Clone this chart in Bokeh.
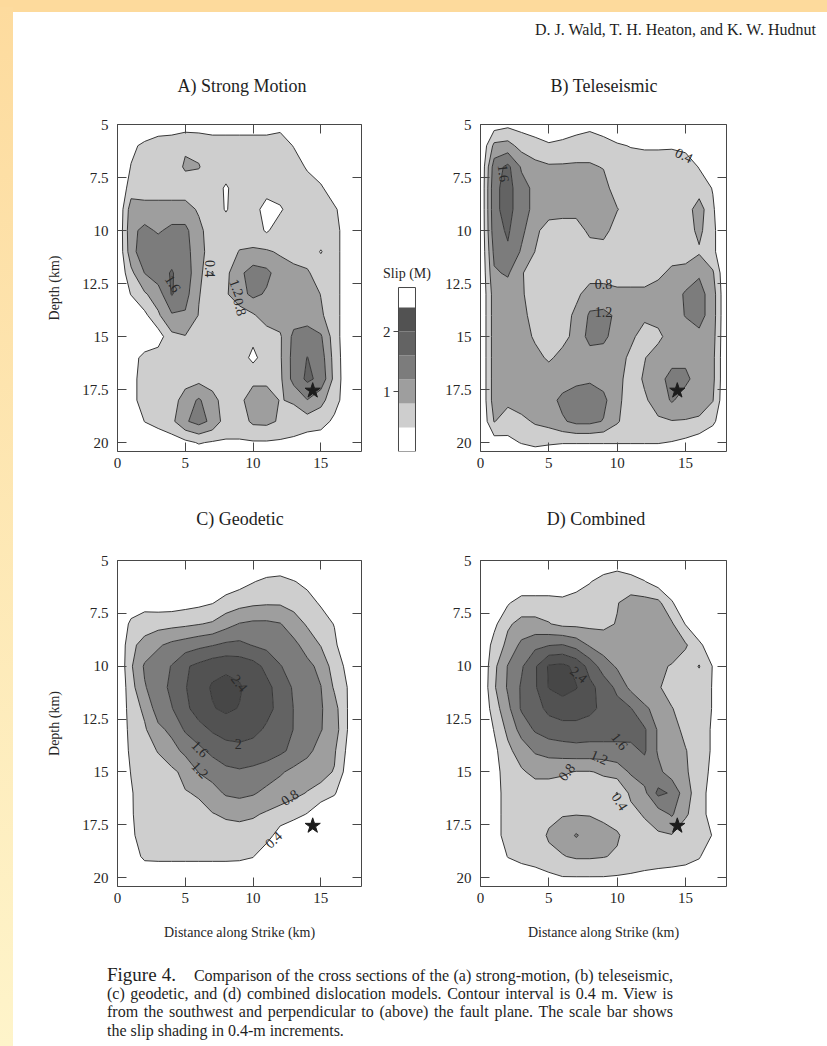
import numpy as np
from bokeh.plotting import figure
from bokeh.layouts import row, column
from bokeh.models import (Range1d, LinearAxis, FixedTicker, CustomJSTickFormatter,
                          Div, ColumnDataSource)
from bokeh.core.properties import value
from bokeh.embed import file_html
from bokeh.resources import INLINE

# ---------------------------------------------------------------------------
# Fault-plane grid (km): distance along strike and depth
distance_km = list(range(0, 19))
depth_km = list(range(5, 22))

# Slip (m) on the grid, one row per depth (5 ... 21 km)
slip_strong_motion = [
    [0, 0, 0, 0.15, 0.2, 0.2, 0.2, 0.2, 0.2, 0.2, 0.2, 0.2, 0.28, 0, 0, 0, 0, 0, 0],
    [0, 0.3, 0.5, 0.6, 0.6, 0.75, 0.7, 0.6, 0.6, 0.6, 0.6, 0.6, 0.6, 0.38, 0, 0, 0, 0, 0],
    [0, 0.42, 0.6, 0.6, 0.6, 0.85, 0.82, 0.6, 0.6, 0.6, 0.6, 0.6, 0.6, 0.6, 0.35, 0, 0, 0, 0],
    [0, 0.6, 0.6, 0.6, 0.6, 0.6, 0.6, 0.6, 0.35, 0.6, 0.6, 0.6, 0.6, 0.6, 0.6, 0.5, 0, 0, 0],
    [0, 1.0, 0.95, 0.95, 0.95, 0.95, 0.75, 0.6, 0.37, 0.6, 0.6, 0.2, 0.35, 0.6, 0.6, 0.6, 0.5, 0, 0],
    [0, 1.1, 1.3, 1.15, 1.3, 1.3, 0.9, 0.6, 0.6, 0.6, 0.6, 0.35, 0.6, 0.6, 0.6, 0.6, 0.6, 0.1, 0],
    [0, 1.05, 1.45, 1.45, 1.45, 1.35, 0.95, 0.6, 0.6, 0.82, 0.85, 0.85, 0.75, 0.6, 0.6, 0.38, 0.6, 0.1, 0],
    [0, 0.7, 1.21, 1.45, 1.63, 1.4, 0.95, 0.38, 0.7, 1.1, 1.4, 1.3, 1.0, 0.95, 0.85, 0.6, 0.6, 0.1, 0],
    [0, 0.42, 0.75, 1.0, 1.63, 1.35, 0.82, 0.6, 0.75, 1.05, 1.3, 1.15, 1.0, 1.0, 1.0, 0.79, 0.6, 0.1, 0],
    [0, 0, 0.3, 0.74, 1.15, 1.15, 0.78, 0.6, 0.6, 0.6, 0.75, 1.0, 1.0, 1.0, 1.0, 0.85, 0.6, 0.1, 0],
    [0, 0, 0, 0.2, 0.7, 0.78, 0.7, 0.6, 0.6, 0.6, 0.5, 0.6, 0.75, 1.3, 1.4, 1.25, 0.6, 0.1, 0],
    [0, 0.2, 0.55, 0.6, 0.6, 0.6, 0.6, 0.6, 0.6, 0.6, 0.3, 0.6, 0.75, 1.35, 1.61, 1.4, 0.65, 0.1, 0],
    [0, 0.25, 0.6, 0.6, 0.6, 0.62, 0.68, 0.6, 0.6, 0.6, 0.7, 0.7, 0.72, 1.35, 1.68, 1.5, 0.68, 0.1, 0],
    [0, 0.25, 0.6, 0.6, 0.6, 1.0, 1.25, 0.95, 0.6, 0.7, 1.0, 1.0, 0.78, 0.85, 1.19, 0.9, 0.6, 0.1, 0],
    [0, 0, 0.41, 0.6, 0.7, 1.15, 1.35, 1.1, 0.6, 0.6, 0.88, 0.9, 0.75, 0.6, 0.6, 0.6, 0.3, 0, 0],
    [0, 0, 0, 0, 0.2, 0.3, 0.43, 0.36, 0.36, 0.36, 0.36, 0.36, 0.34, 0.32, 0.2, 0.1, 0, 0, 0],
    [0, 0, 0, 0, 0, 0, 0, 0, 0, 0, 0, 0, 0, 0, 0, 0, 0, 0, 0],
]

slip_teleseismic = [
    [0, 0.2, 0.3, 0.25, 0.1, 0.1, 0.15, 0.2, 0.3, 0.2, 0.05, 0, 0, 0, 0, 0, 0, 0, 0],
    [0, 0.9, 0.95, 0.65, 0.6, 0.45, 0.5, 0.6, 0.6, 0.55, 0.45, 0.38, 0.35, 0.35, 0.36, 0.3, 0, 0, 0],
    [0, 1.4, 1.7, 1.15, 0.9, 0.85, 0.85, 0.85, 0.85, 0.78, 0.6, 0.6, 0.6, 0.6, 0.6, 0.6, 0.38, 0, 0],
    [0, 1.5, 1.75, 1.35, 1.1, 1.0, 1.0, 1.0, 1.0, 0.95, 0.6, 0.6, 0.6, 0.6, 0.6, 0.6, 0.6, 0.38, 0],
    [0, 1.5, 1.75, 1.35, 1.1, 1.0, 0.95, 0.95, 1.0, 1.0, 0.82, 0.6, 0.6, 0.6, 0.6, 0.6, 1.0, 0.45, 0],
    [0, 1.45, 1.65, 1.3, 0.9, 0.6, 0.6, 0.6, 0.9, 0.95, 0.6, 0.6, 0.6, 0.6, 0.6, 0.6, 0.9, 0.5, 0],
    [0, 1.3, 1.55, 1.15, 0.79, 0.6, 0.6, 0.6, 0.6, 0.6, 0.6, 0.6, 0.6, 0.6, 0.6, 0.6, 0.75, 0.5, 0],
    [0, 1.15, 1.25, 0.85, 0.5, 0.6, 0.6, 0.6, 0.6, 0.6, 0.6, 0.6, 0.6, 0.7, 0.9, 0.95, 1.15, 0.85, 0],
    [0, 1.0, 1.0, 0.85, 0.6, 0.6, 0.6, 0.7, 1.0, 1.0, 0.9, 0.9, 0.9, 1.0, 1.0, 1.25, 1.35, 1.0, 0],
    [0, 1.0, 1.0, 0.95, 0.6, 0.6, 0.6, 0.9, 1.25, 1.28, 1.15, 0.95, 0.9, 0.95, 1.0, 1.22, 1.35, 1.0, 0],
    [0, 1.0, 1.0, 0.95, 0.75, 0.6, 0.7, 0.9, 1.35, 1.3, 1.0, 0.9, 0.6, 0.7, 1.0, 1.0, 1.1, 0.95, 0],
    [0, 1.0, 1.0, 1.0, 0.9, 0.75, 0.9, 1.0, 1.0, 1.0, 1.0, 0.7, 0.78, 1.0, 1.05, 1.1, 1.05, 0.9, 0],
    [0, 1.0, 1.0, 1.0, 1.0, 1.0, 1.0, 1.1, 1.15, 1.05, 0.95, 0.6, 0.85, 1.05, 1.35, 1.3, 1.0, 0.9, 0],
    [0, 1.0, 0.9, 1.0, 1.0, 1.05, 1.3, 1.4, 1.4, 1.3, 0.9, 0.6, 0.75, 0.95, 1.25, 1.0, 0.95, 0.82, 0],
    [0, 0.82, 0.6, 0.7, 0.85, 0.95, 1.15, 1.3, 1.3, 1.18, 0.85, 0.55, 0.55, 0.75, 0.78, 0.78, 0.75, 0.5, 0],
    [0, 0.2, 0.3, 0.42, 0.5, 0.45, 0.42, 0.42, 0.42, 0.42, 0.42, 0.42, 0.42, 0.42, 0.38, 0.3, 0.15, 0, 0],
    [0, 0, 0, 0, 0, 0, 0, 0, 0, 0, 0, 0, 0, 0, 0, 0, 0, 0, 0],
]

slip_geodetic = [
    [0, 0, 0, 0, 0, 0, 0, 0, 0, 0, 0, 0, 0, 0, 0, 0, 0, 0, 0],
    [0, 0, 0, 0, 0, 0, 0, 0, 0.15, 0.25, 0.38, 0.5, 0.55, 0.42, 0.3, 0, 0, 0, 0],
    [0, 0.1, 0.25, 0.2, 0.2, 0.25, 0.3, 0.38, 0.55, 0.65, 0.72, 0.75, 0.75, 0.65, 0.55, 0.35, 0, 0, 0],
    [0, 0.5, 0.6, 0.65, 0.68, 0.72, 0.78, 0.85, 1.05, 1.22, 1.28, 1.28, 1.22, 1.0, 0.75, 0.6, 0.38, 0, 0],
    [0, 0.7, 0.95, 1.15, 1.3, 1.4, 1.5, 1.58, 1.68, 1.7, 1.58, 1.5, 1.4, 1.3, 1.05, 0.78, 0.5, 0, 0],
    [0, 0.75, 1.25, 1.4, 1.62, 1.95, 2.1, 2.25, 2.3, 2.25, 2.15, 1.9, 1.62, 1.45, 1.3, 1.1, 0.6, 0.3, 0],
    [0, 0.65, 1.17, 1.4, 1.7, 1.98, 2.2, 2.45, 2.55, 2.45, 2.2, 2.1, 1.85, 1.55, 1.35, 1.21, 0.75, 0.38, 0],
    [0, 0.6, 0.88, 1.41, 1.58, 1.9, 2.2, 2.37, 2.48, 2.38, 2.2, 2.1, 1.9, 1.59, 1.4, 1.24, 0.95, 0.38, 0],
    [0, 0.55, 0.75, 1.1, 1.3, 1.65, 1.85, 2.05, 2.15, 2.15, 2.1, 1.95, 1.8, 1.59, 1.4, 1.22, 1.0, 0.38, 0],
    [0, 0.5, 0.65, 0.82, 1.05, 1.3, 1.5, 1.7, 1.85, 1.9, 1.85, 1.8, 1.68, 1.5, 1.3, 1.05, 0.85, 0.3, 0],
    [0, 0.42, 0.55, 0.65, 0.72, 0.9, 1.22, 1.35, 1.5, 1.55, 1.5, 1.4, 1.25, 1.1, 1.0, 0.9, 0.78, 0.2, 0],
    [0, 0.35, 0.7, 0.73, 0.76, 0.78, 0.83, 1.05, 1.25, 1.3, 1.24, 1.1, 1.0, 0.9, 0.78, 0.7, 0.45, 0, 0],
    [0, 0.35, 0.65, 0.65, 0.65, 0.68, 0.72, 0.78, 0.86, 0.9, 0.85, 0.75, 0.65, 0.55, 0.38, 0, 0, 0, 0],
    [0, 0.32, 0.6, 0.62, 0.62, 0.62, 0.62, 0.62, 0.62, 0.62, 0.6, 0.58, 0.2, 0, 0, 0, 0, 0, 0],
    [0, 0.15, 0.5, 0.52, 0.52, 0.52, 0.52, 0.52, 0.52, 0.5, 0.42, 0.1, 0, 0, 0, 0, 0, 0, 0],
    [0, 0, 0, 0, 0, 0, 0, 0, 0, 0, 0, 0, 0, 0, 0, 0, 0, 0, 0],
    [0, 0, 0, 0, 0, 0, 0, 0, 0, 0, 0, 0, 0, 0, 0, 0, 0, 0, 0],
]

slip_combined = [
    [0, 0, 0, 0, 0, 0, 0, 0, 0, 0.1, 0.2, 0.1, 0, 0, 0, 0, 0, 0, 0],
    [0, 0, 0, 0, 0, 0, 0, 0.2, 0.38, 0.55, 0.6, 0.55, 0.42, 0.2, 0, 0, 0, 0, 0],
    [0, 0, 0.35, 0.6, 0.6, 0.6, 0.55, 0.6, 0.6, 0.6, 0.78, 0.95, 0.95, 0.9, 0.45, 0, 0, 0, 0],
    [0, 0.3, 0.75, 0.9, 0.9, 0.82, 0.7, 0.7, 0.7, 0.72, 0.82, 1.0, 1.0, 1.0, 0.85, 0.38, 0, 0, 0],
    [0, 0.55, 0.9, 1.3, 1.5, 1.58, 1.62, 1.45, 1.15, 1.0, 1.0, 1.0, 1.0, 1.0, 0.95, 0.85, 0.5, 0.1, 0],
    [0, 0.7, 1.22, 1.55, 1.95, 2.45, 2.5, 2.3, 1.85, 1.4, 1.15, 1.0, 0.95, 0.85, 0.78, 0.6, 0.82, 0.38, 0],
    [0, 0.75, 1.25, 1.65, 1.95, 2.42, 2.55, 2.42, 2.1, 1.85, 1.5, 1.1, 1.0, 0.85, 0.6, 0.6, 0.6, 0.38, 0],
    [0, 0.6, 1.1, 1.65, 1.85, 2.1, 2.2, 2.2, 2.1, 1.9, 1.75, 1.62, 1.25, 1.1, 0.82, 0.6, 0.6, 0.38, 0],
    [0, 0.42, 0.9, 1.35, 1.65, 1.8, 1.85, 1.85, 1.8, 1.8, 1.8, 1.75, 1.65, 1.15, 0.95, 0.7, 0.6, 0.35, 0],
    [0, 0.3, 0.7, 1.0, 1.25, 1.35, 1.4, 1.45, 1.45, 1.45, 1.45, 1.5, 1.65, 1.15, 1.0, 0.82, 0.6, 0.35, 0],
    [0, 0.25, 0.6, 0.75, 0.9, 0.9, 0.85, 0.78, 0.78, 0.85, 1.0, 1.25, 1.4, 1.3, 1.0, 0.85, 0.6, 0.3, 0],
    [0, 0.2, 0.6, 0.6, 0.6, 0.6, 0.6, 0.6, 0.6, 0.6, 0.38, 0.9, 1.1, 1.7, 1.55, 0.95, 0.6, 0.2, 0],
    [0, 0.2, 0.6, 0.6, 0.6, 0.7, 0.78, 0.78, 0.78, 0.7, 0.6, 0.65, 0.85, 1.0, 1.25, 0.85, 0.6, 0.2, 0],
    [0, 0.2, 0.6, 0.6, 0.6, 0.85, 0.95, 1.24, 1.0, 0.95, 0.85, 0.6, 0.6, 0.75, 0.78, 0.6, 0.6, 0.38, 0],
    [0, 0, 0.42, 0.6, 0.6, 0.7, 0.78, 0.85, 0.85, 0.82, 0.75, 0.6, 0.6, 0.6, 0.6, 0.6, 0.45, 0, 0],
    [0, 0, 0, 0, 0.2, 0.3, 0.38, 0.38, 0.38, 0.38, 0.36, 0.35, 0.3, 0.25, 0.2, 0.1, 0, 0, 0],
    [0, 0, 0, 0, 0, 0, 0, 0, 0, 0, 0, 0, 0, 0, 0, 0, 0, 0, 0],
]

# Contour interval 0.4 m and the grey shade of each band
slip_levels = [0.4, 0.8, 1.2, 1.6, 2.0, 2.4, 3.0]
slip_shades = ["#cecece", "#9e9e9e", "#7c7c7c", "#636363", "#525252", "#474747"]
scale_top = 2.733  # upper end of the shading bar (m)

# Hypocentre
epicenter_distance = [14.4]
epicenter_depth = [17.55]

distance_ticks = [0, 5, 10, 15]
distance_tick_labels = ["0", "5", "10", "15"]
depth_ticks = [5, 7.5, 10, 12.5, 15, 17.5, 20]
depth_tick_labels = ["5", "7.5", "10", "12.5", "15", "17.5", "20"]
scale_ticks = [1, 2]
scale_tick_labels = ["1", "2"]

# Contour annotations (value text, placement along strike / depth, rotation)
strong_motion_notes = dict(text=["1.6", "0.4", "1.2", "0.8"],
                           x=[4.1, 6.85, 8.8, 9.05], y=[12.5, 11.8, 12.7, 13.6],
                           angle=[-1.0, -1.5708, -1.2, -1.3])
teleseismic_notes = dict(text=["1.6", "0.4", "0.8", "1.2"],
                         x=[1.7, 14.9, 9.0, 9.0], y=[7.3, 6.45, 12.5, 13.85],
                         angle=[-1.45, -0.45, 0.0, 0.0])
geodetic_notes = dict(text=["2.4", "2", "1.6", "1.2", "0.8", "0.4"],
                      x=[9.0, 8.9, 6.1, 6.1, 12.7, 11.5], y=[10.8, 13.7, 13.9, 14.9, 16.2, 18.2],
                      angle=[-0.9, 0.0, -0.8, -0.8, 0.6, 0.75])
combined_notes = dict(text=["2.4", "1.2", "1.6", "0.8", "0.4"],
                      x=[7.2, 8.7, 10.2, 6.3, 10.2], y=[10.4, 14.3, 13.55, 15.0, 16.4],
                      angle=[-0.7, -0.4, -0.9, 0.9, -1.0])

SERIF = "Liberation Serif"
INK = "#262626"
EDGE = "#474747"


def tick_text(values, texts):
    return CustomJSTickFormatter(
        args=dict(tick_values=values, tick_texts=texts),
        code="const i = tick_values.indexOf(tick); return i < 0 ? '' : tick_texts[i];")


def blank_text():
    return CustomJSTickFormatter(code="return '';")


def dress_axis(ax, ticks, formatter, standoff, size="15px"):
    ax.ticker = FixedTicker(ticks=ticks, minor_ticks=[])
    ax.formatter = formatter
    ax.major_tick_in = 9
    ax.major_tick_out = 0
    ax.minor_tick_in = 0
    ax.minor_tick_out = 0
    ax.axis_line_color = None
    ax.major_tick_line_color = EDGE
    ax.major_label_text_font = SERIF
    ax.major_label_text_font_size = size
    ax.major_label_text_color = INK
    ax.major_label_standoff = standoff


def name_axis(ax, text, standoff):
    ax.axis_label = text
    ax.axis_label_text_font = SERIF
    ax.axis_label_text_font_size = "14px"
    ax.axis_label_text_font_style = "normal"
    ax.axis_label_text_color = INK
    ax.axis_label_standoff = standoff


def slip_panel(slip, notes, frame_w, frame_h, borders, depth_name=False, distance_name=False):
    left, right, top, bottom = borders
    p = figure(width=left + frame_w + right, height=top + frame_h + bottom,
               x_range=Range1d(0, 18), y_range=Range1d(20.42, 5),
               output_backend="svg", toolbar_location=None,
               min_border_left=left, min_border_right=right,
               min_border_top=top, min_border_bottom=bottom)
    p.background_fill_color = "white"
    p.border_fill_color = "white"
    p.outline_line_color = EDGE
    p.outline_line_width = 1
    p.xgrid.visible = False
    p.ygrid.visible = False

    dress_axis(p.xaxis[0], distance_ticks, tick_text(distance_ticks, distance_tick_labels), 6)
    dress_axis(p.yaxis[0], depth_ticks, tick_text(depth_ticks, depth_tick_labels), 9)
    if depth_name:
        name_axis(p.yaxis[0], "Depth (km)", 17)
    if distance_name:
        name_axis(p.xaxis[0], "Distance along Strike (km)", 19)
    top_axis = LinearAxis()
    dress_axis(top_axis, distance_ticks, blank_text(), 0, size="1px")
    p.add_layout(top_axis, "above")
    right_axis = LinearAxis()
    dress_axis(right_axis, depth_ticks, blank_text(), 0, size="1px")
    p.add_layout(right_axis, "right")

    p.contour(distance_km, depth_km, np.array(slip, dtype=float), slip_levels,
              fill_color=slip_shades, line_color="#363636", line_width=1)

    p.text(x="x", y="y", text="text", angle="angle", source=ColumnDataSource(notes),
           text_font=value(SERIF), text_font_size="14px", text_color="#2a2a2a",
           text_align="center", text_baseline="middle")

    p.scatter(epicenter_distance, epicenter_depth, marker="star", size=16,
              fill_color="#1c1c1c", line_color="#1c1c1c")
    return p


# Row 1: strong motion, shading scale, teleseismic
panel_a = slip_panel(slip_strong_motion, strong_motion_notes, 244, 327, (104, 2, 20, 39),
                     depth_name=True)
panel_b = slip_panel(slip_teleseismic, teleseismic_notes, 246, 327, (40, 101, 20, 39))

scale = figure(width=77, height=386, x_range=Range1d(-1.1176, 2.4706), y_range=Range1d(0, 5.45),
               output_backend="svg", toolbar_location=None, x_axis_location=None,
               min_border_left=16, min_border_right=0, min_border_top=20, min_border_bottom=39)
scale.background_fill_color = "white"
scale.border_fill_color = "white"
scale.outline_line_color = None
scale.xgrid.visible = False
scale.ygrid.visible = False
scale.quad(left=0, right=1, bottom=slip_levels[:5], top=slip_levels[1:6],
           fill_color=slip_shades[:5], line_color=None)
scale.quad(left=0, right=1, bottom=0, top=scale_top, fill_color=None,
           line_color=EDGE, line_width=1)
scale.text(x=[0.5], y=[scale_top + 0.233], text=["Slip (M)"], text_font=value(SERIF),
           text_font_size="14px", text_color=INK, text_align="center", text_baseline="middle")
sax = scale.yaxis[0]
sax.fixed_location = 0
sax.ticker = FixedTicker(ticks=scale_ticks, minor_ticks=[])
sax.formatter = tick_text(scale_ticks, scale_tick_labels)
sax.major_tick_in = 0
sax.major_tick_out = 5
sax.minor_tick_in = 0
sax.minor_tick_out = 0
sax.axis_line_color = None
sax.major_tick_line_color = EDGE
sax.major_label_text_font = SERIF
sax.major_label_text_font_size = "15px"
sax.major_label_text_color = INK
sax.major_label_standoff = 3

# Row 2: geodetic, combined
panel_c = slip_panel(slip_geodetic, geodetic_notes, 244, 326, (104, 71, 20, 69),
                     depth_name=True, distance_name=True)
panel_d = slip_panel(slip_combined, combined_notes, 246, 326, (48, 101, 20, 69),
                     distance_name=True)

FONT_CSS = "font-family:'Liberation Serif',serif;color:#1e1e1e;white-space:nowrap;"


def placed(text, cx, cy, size):
    return ('<div style="position:absolute;left:%dpx;top:%dpx;transform:translate(-50%%,-50%%);'
            'font-size:%s;%s">%s</div>' % (cx, cy, size, FONT_CSS, text))


header = Div(width=814, height=97, margin=0, text=(
    '<div style="position:relative;width:814px;height:97px;overflow:hidden;">'
    '<div style="position:absolute;left:522px;top:12px;font-size:16px;' + FONT_CSS
    + '">D. J. Wald, T. H. Heaton, and K. W. Hudnut</div>'
    + placed("A) Strong Motion", 229, 80, "18px")
    + placed("B) Teleseismic", 591, 80, "18px")
    + '</div>'))

middle = Div(width=814, height=50, margin=0, text=(
    '<div style="position:relative;width:814px;height:50px;overflow:hidden;">'
    + placed("C) Geodetic", 227, 30, "18px")
    + placed("D) Combined", 583, 30, "18px")
    + '</div>'))

line_css = "height:18.7px;width:566px;white-space:nowrap;text-align:justify;text-align-last:justify;"
caption = Div(width=814, height=91, margin=0, text=(
    '<div style="padding:11px 0 0 94px;font-size:16px;line-height:18.7px;'
    'font-family:\'Liberation Serif\',serif;color:#1e1e1e;">'
    '<div style="' + line_css + '"><span style="font-size:19px;">Figure 4.</span>&nbsp;&nbsp;&nbsp; '
    'Comparison of the cross sections of the (a) strong-motion, (b) teleseismic,</div>'
    '<div style="' + line_css + '">(c) geodetic, and (d) combined dislocation models. '
    'Contour interval is 0.4 m. View is</div>'
    '<div style="' + line_css + '">from the southwest and perpendicular to (above) the fault '
    'plane. The scale bar shows</div>'
    '<div style="height:18.7px;white-space:nowrap;">the slip shading in 0.4-m increments.</div>'
    '</div>'))

top_band = Div(width=827, height=7, margin=0, styles={"background-color": "#fdda9c"},
               text='<div style="width:827px;height:7px;background:#fdda9c;"></div>')
side_band = Div(width=13, height=1039, margin=0,
                styles={"background": "linear-gradient(#fddb9e, #fef4ca)"},
                text='<div style="width:13px;height:1039px;'
                     'background:linear-gradient(#fddb9e, #fef4ca);"></div>')

page = column(header, row(panel_a, scale, panel_b), middle, row(panel_c, panel_d), caption)
root = column(top_band, row(side_band, page))

open("out.html", "w").write(file_html(root, INLINE))
